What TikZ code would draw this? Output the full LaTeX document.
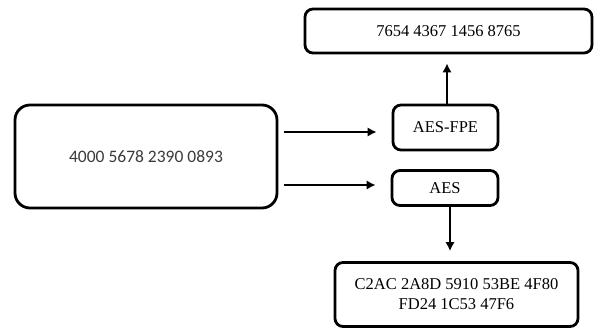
\documentclass[tikz,border=0pt]{standalone}
\usepackage{fontspec}
\setmainfont{Liberation Serif}
\newfontfamily\cardfont{Carlito}
\usepackage{tikz}
\usetikzlibrary{positioning,calc,arrows.meta}
\definecolor{cardtext}{HTML}{3a3a3a}

\begin{document}
\begin{tikzpicture}[x=1pt, y=-1pt,
  box/.style={draw, line width=2.8pt, rounded corners=8pt, align=center,
    inner sep=0pt, font=\fontsize{16.5}{20}\selectfont},
  arr/.style={line width=1.8pt, -{Latex[length=9pt,width=9.5pt]}}]
  \useasboundingbox (0,0) rectangle (595,329);

  % Plain card number (left)
  \node[box, rounded corners=15pt, minimum width=262pt, minimum height=103pt,
    font=\cardfont\fontsize{17.5}{20}\selectfont, text=cardtext] (card) at (146,156.5)
    {4000 5678 2390 0893};

  % Cipher blocks
  \node[box, minimum width=105pt, minimum height=45pt] (fpe) at (445.5,127.5) {AES-FPE};
  \node[box, minimum width=106pt, minimum height=35pt] (aes) at (445,188) {AES};

  % Outputs
  \node[box, minimum width=287pt, minimum height=44pt] (fpeout) at (448.5,31)
    {7654 4367 1456 8765};
  \node[box, minimum width=243pt, minimum height=64pt] (aesout) at (456.5,294.5)
    {C2AC 2A8D 5910 53BE 4F80\\FD24 1C53 47F6};

  % Arrows
  \draw[arr] ([xshift=6pt, yshift=-4.5pt]card.east |- fpe.west) -- ([xshift=-15pt, yshift=-4.5pt]fpe.west);
  \draw[arr] ([xshift=6pt, yshift=3pt]card.east |- aes.west) -- ([xshift=-15pt, yshift=3pt]aes.west);
  \draw[arr] ([xshift=1.5pt]fpe.north) -- ([xshift=-1.5pt, yshift=-9pt]fpeout.south);
  \draw[arr] ([xshift=5pt]aes.south) -- ([xshift=-6.5pt, yshift=10pt]aesout.north);
\end{tikzpicture}
\end{document}
